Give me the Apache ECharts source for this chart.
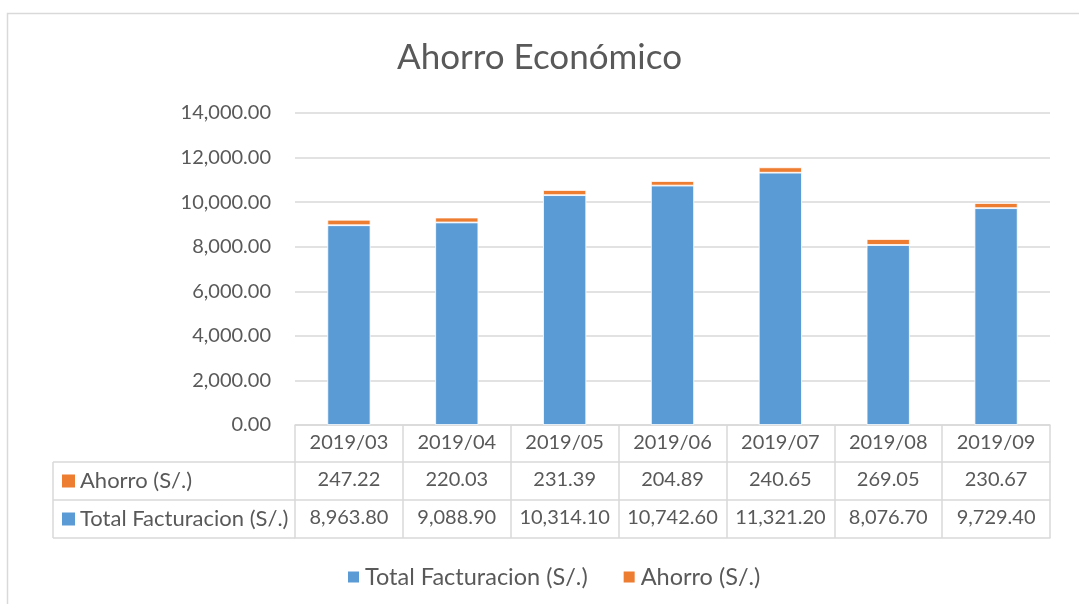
<!DOCTYPE html>
<html>
<head>
<meta charset="utf-8">
<script src="https://cdn.jsdelivr.net/npm/echarts@6/dist/echarts.min.js"></script>
<style>
  html, body { margin: 0; padding: 0; background: #fff; }
  #chart { width: 1079px; height: 604px; }
</style>
</head>
<body>
<div id="chart"></div>
<script>
// Monthly billing and savings
const months = ['2019/03', '2019/04', '2019/05', '2019/06', '2019/07', '2019/08', '2019/09'];
const totalFacturacion = [8963.80, 9088.90, 10314.10, 10742.60, 11321.20, 8076.70, 9729.40];
const ahorro = [247.22, 220.03, 231.39, 204.89, 240.65, 269.05, 230.67];
const yTicks = { min: 0, max: 14000, interval: 2000 };

const NAME_TOTAL = 'Total Facturacion (S/.)';
const NAME_AHORRO = 'Ahorro (S/.)';
const BLUE = '#5B9BD5';
const ORANGE = '#ED7D31';
const TEXT = '#595959';
const LINE = '#D9D9D9';
const FONT = 'Lato';
const FS = 20;        // numbers and month labels
const FS_HEAD = 22;   // row headers of the data table
const FS_LEGEND = 23.5;

function fmt(v) {
  const parts = v.toFixed(2).split('.');
  parts[0] = parts[0].replace(/\B(?=(\d{3})+(?!\d))/g, ',');
  return parts.join('.');
}

// plot area geometry
const G = { left: 295, right: 29, top: 113, bottom: 179 };
const ROW = [425, 462, 500, 538]; // table row boundaries
const HEAD_LEFT = 53;

const chart = echarts.init(document.getElementById('chart'));

// one x axis per table row; the first one carries the month labels
function tableAxis(offset, formatter, tickLen, showLabel) {
  return {
    type: 'category',
    data: months,
    gridIndex: 0,
    position: 'bottom',
    offset: offset,
    boundaryGap: true,
    axisLine: { show: true, lineStyle: { color: LINE, width: 1.5 } },
    axisTick: { show: tickLen > 0, length: tickLen, lineStyle: { color: LINE, width: 1.5 } },
    axisLabel: {
      show: showLabel,
      formatter: formatter,
      color: TEXT,
      fontFamily: FONT,
      fontSize: FS,
      margin: 18,
      verticalAlign: 'middle',
      interval: 0
    },
    splitLine: { show: false }
  };
}

function headerRow(y0, y1, color, label) {
  const cy = (y0 + y1) / 2;
  return [
    { type: 'rect', shape: { x: 62, y: cy - 6.5, width: 13, height: 13 }, style: { fill: color } },
    { type: 'text', x: 80, y: cy, style: { text: label, fill: TEXT, font: FS_HEAD + 'px ' + FONT, verticalAlign: 'middle' } }
  ];
}

const option = {
  animation: false,
  backgroundColor: '#fff',
  title: {
    text: 'Ahorro Económico',
    left: 'center',
    top: 35,
    textStyle: { color: TEXT, fontFamily: FONT, fontSize: 35, fontWeight: 'normal' }
  },
  legend: {
    data: [NAME_TOTAL, NAME_AHORRO],
    left: 341,
    top: 560,
    icon: 'rect',
    itemWidth: 13,
    itemHeight: 13,
    itemGap: 34,
    textStyle: { color: TEXT, fontFamily: FONT, fontSize: FS_LEGEND }
  },
  grid: { left: G.left, right: G.right, top: G.top, bottom: G.bottom, containLabel: false },
  xAxis: [
    tableAxis(0, v => v, ROW[1] - ROW[0], true),
    tableAxis(ROW[1] - ROW[0], (v, i) => fmt(ahorro[i]), ROW[2] - ROW[1], true),
    tableAxis(ROW[2] - ROW[0], (v, i) => fmt(totalFacturacion[i]), ROW[3] - ROW[2], true),
    tableAxis(ROW[3] - ROW[0], () => '', 0, false)
  ],
  yAxis: {
    type: 'value',
    min: yTicks.min,
    max: yTicks.max,
    interval: yTicks.interval,
    axisLine: { show: false },
    axisTick: { show: false },
    axisLabel: { color: TEXT, fontFamily: FONT, fontSize: FS, margin: 24, formatter: v => fmt(v) },
    splitLine: { lineStyle: { color: LINE, width: 1.5 } }
  },
  series: [
    {
      name: NAME_TOTAL,
      type: 'bar',
      stack: 'total',
      xAxisIndex: 0,
      data: totalFacturacion,
      barWidth: '40%',
      itemStyle: { color: BLUE, borderColor: '#fff', borderWidth: 0.8 }
    },
    {
      name: NAME_AHORRO,
      type: 'bar',
      stack: 'total',
      xAxisIndex: 0,
      data: ahorro,
      barWidth: '40%',
      itemStyle: { color: ORANGE, borderColor: '#fff', borderWidth: 0.8 }
    }
  ],
  graphic: [
    // chart frame
    { type: 'rect', shape: { x: 7.5, y: 13.5, width: 1090, height: 620 }, style: { fill: null, stroke: LINE, lineWidth: 1.5 }, silent: true },
    // row header cell borders
    { type: 'line', shape: { x1: HEAD_LEFT, y1: ROW[1], x2: G.left, y2: ROW[1] }, style: { stroke: LINE, lineWidth: 1.5 } },
    { type: 'line', shape: { x1: HEAD_LEFT, y1: ROW[2], x2: G.left, y2: ROW[2] }, style: { stroke: LINE, lineWidth: 1.5 } },
    { type: 'line', shape: { x1: HEAD_LEFT, y1: ROW[3], x2: G.left, y2: ROW[3] }, style: { stroke: LINE, lineWidth: 1.5 } },
    { type: 'line', shape: { x1: HEAD_LEFT, y1: ROW[1], x2: HEAD_LEFT, y2: ROW[3] }, style: { stroke: LINE, lineWidth: 1.5 } },
    ...headerRow(ROW[1], ROW[2], ORANGE, NAME_AHORRO),
    ...headerRow(ROW[2], ROW[3], BLUE, NAME_TOTAL)
  ]
};

chart.setOption(option);
</script>
</body>
</html>
